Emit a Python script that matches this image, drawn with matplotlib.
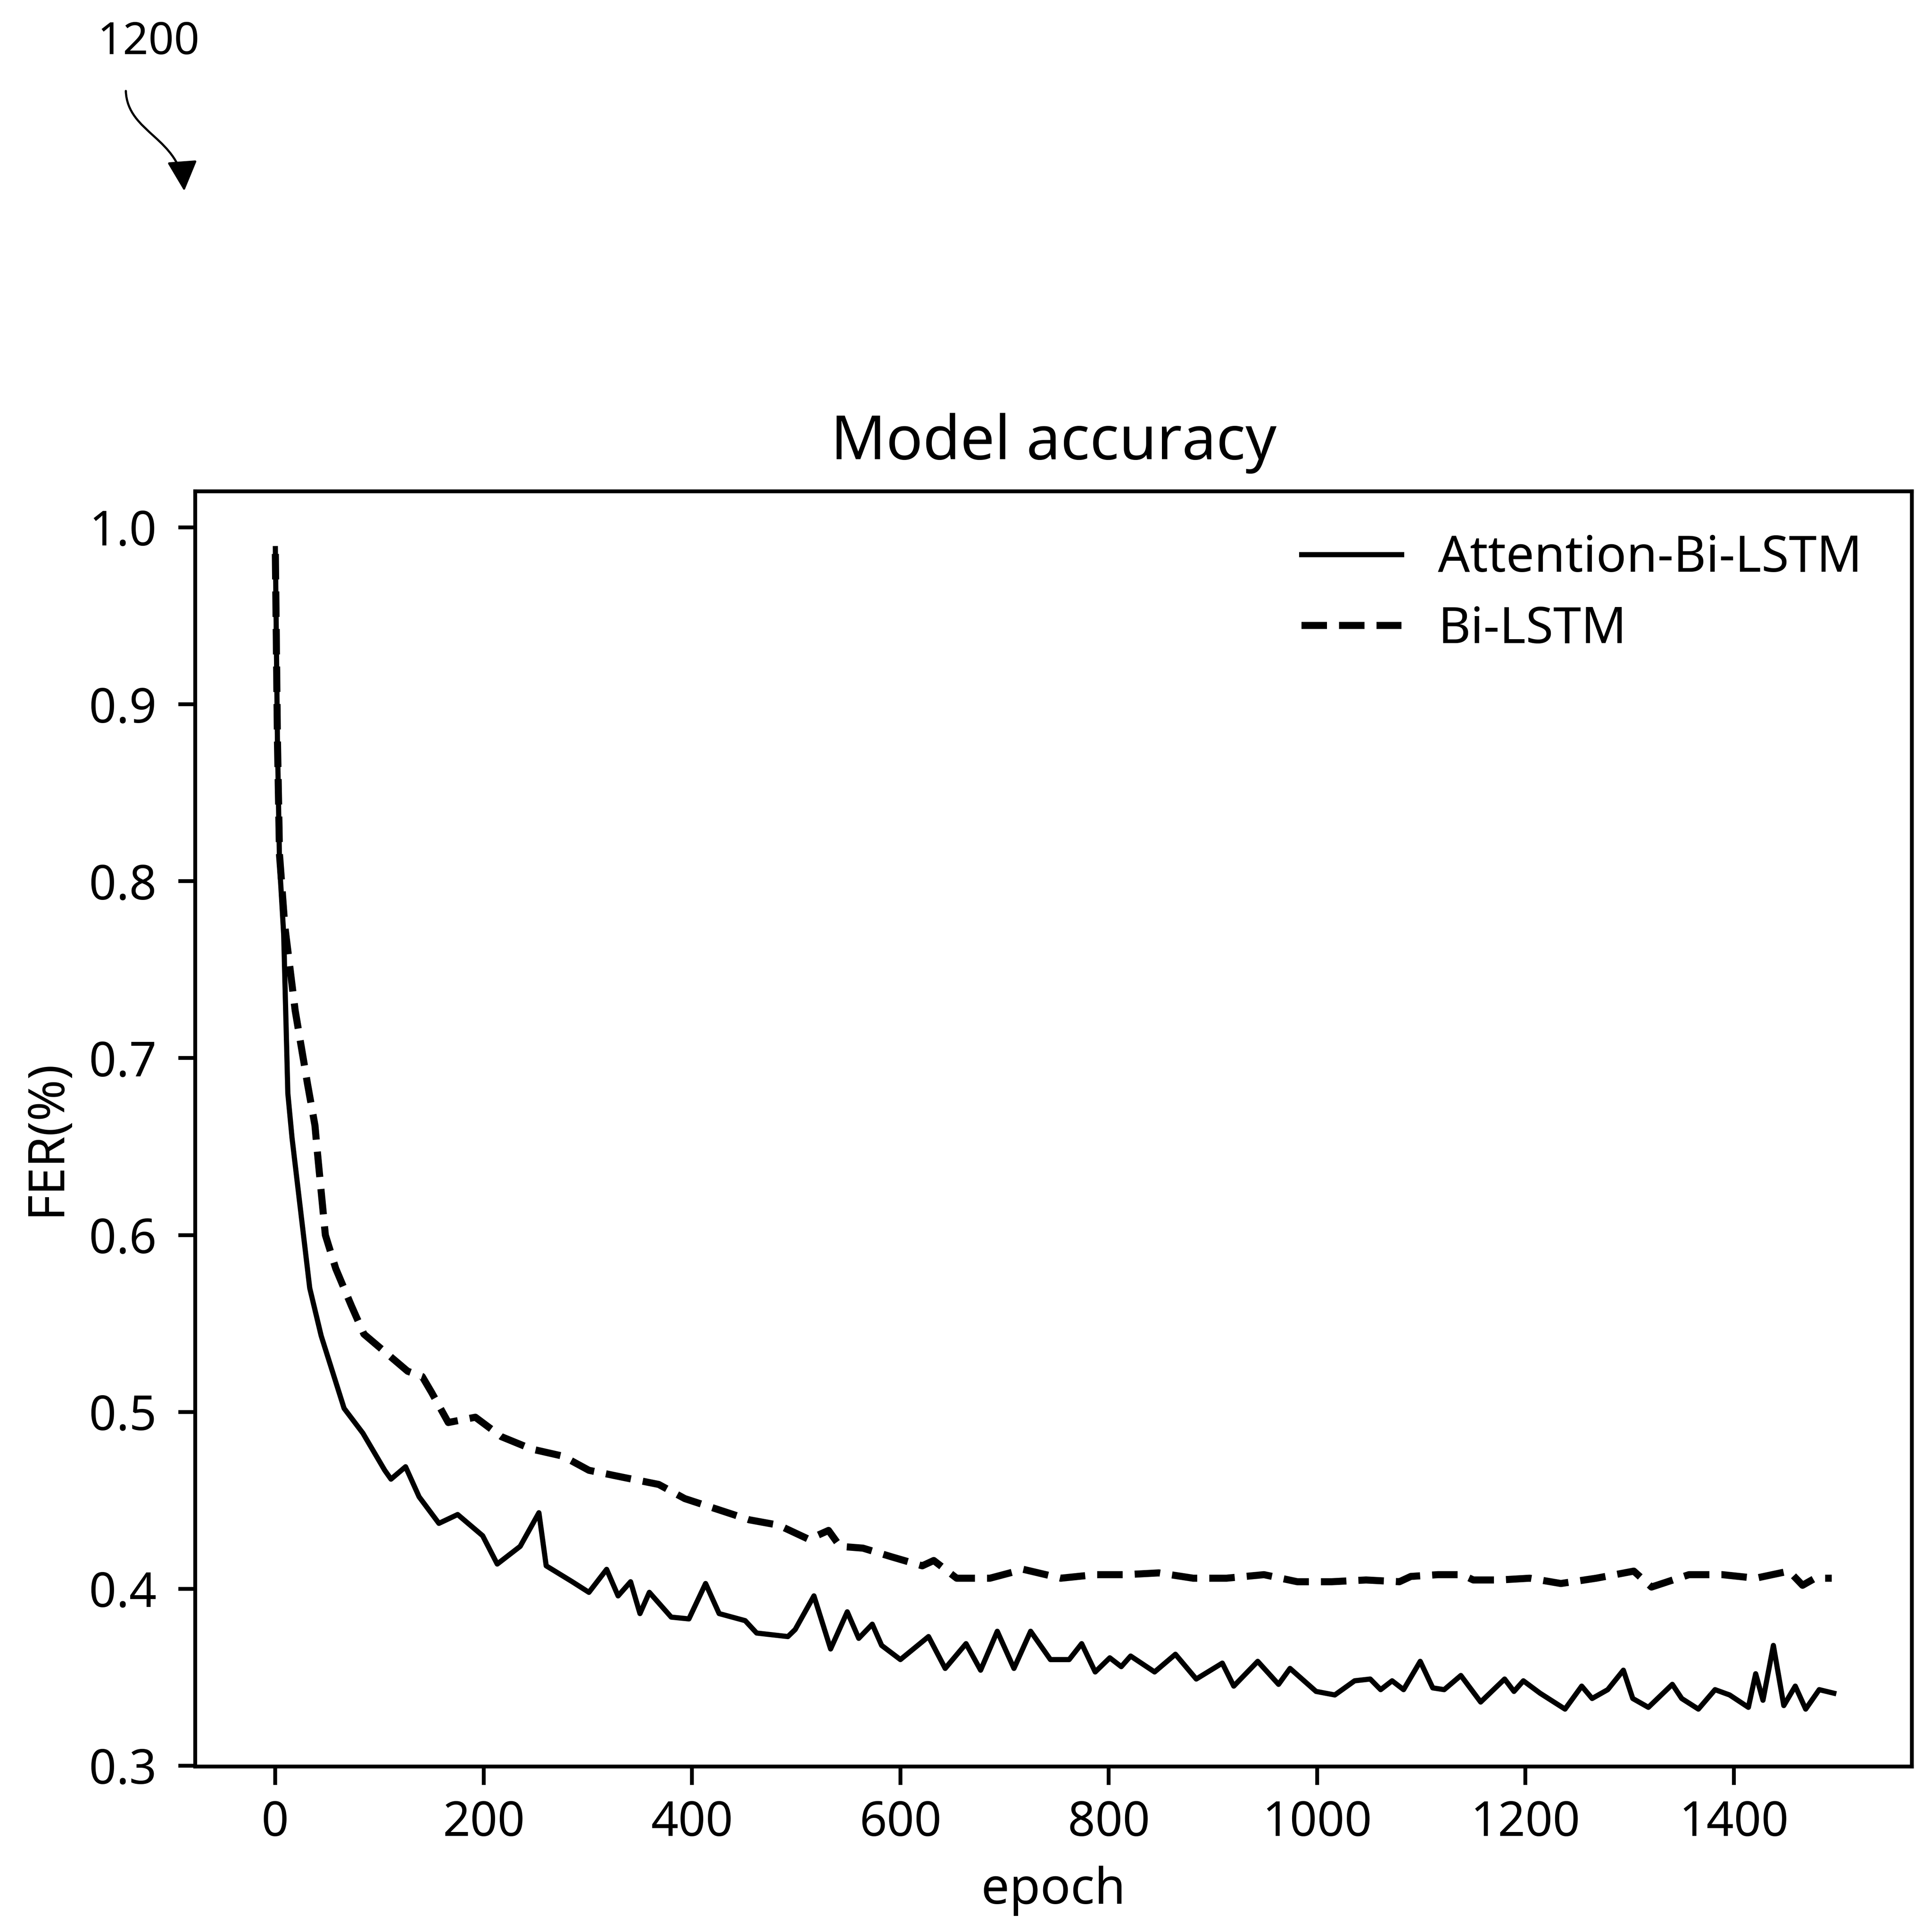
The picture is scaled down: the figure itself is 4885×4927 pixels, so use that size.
import matplotlib
matplotlib.use("Agg")
import matplotlib.pyplot as plt
from matplotlib.path import Path
from matplotlib.patches import FancyArrowPatch

# values
epochs_att = [0, 2, 4, 8, 12, 16, 21, 27, 33, 44, 66, 84, 105, 111, 125, 138, 157, 175,
              199, 213, 235, 253, 260, 285, 301, 318, 329, 341, 350, 359, 380, 397, 413,
              426, 451, 462, 492, 499, 517, 533, 549, 560, 573, 582, 600, 627, 643, 663,
              677, 693, 709, 725, 744, 762, 774, 787, 801, 812, 821, 844, 864, 884, 909,
              920, 943, 963, 974, 999, 1017, 1036, 1051, 1061, 1072, 1083, 1099, 1111,
              1122, 1138, 1157, 1180, 1189, 1198, 1214, 1238, 1254, 1264, 1279, 1294,
              1303, 1318, 1341, 1350, 1366, 1382, 1396, 1414, 1421, 1428, 1438, 1448,
              1459, 1469, 1482, 1496]
fer_att = [0.988, 0.880, 0.810, 0.770, 0.680, 0.655, 0.630, 0.600, 0.570, 0.543, 0.502,
           0.488, 0.467, 0.462, 0.469, 0.452, 0.437, 0.442, 0.430, 0.414, 0.424, 0.443,
           0.413, 0.404, 0.398, 0.411, 0.396, 0.404, 0.386, 0.398, 0.384, 0.383, 0.403,
           0.386, 0.382, 0.375, 0.373, 0.377, 0.396, 0.366, 0.387, 0.372, 0.380, 0.368,
           0.360, 0.373, 0.355, 0.369, 0.354, 0.376, 0.355, 0.376, 0.360, 0.360, 0.369,
           0.353, 0.361, 0.356, 0.362, 0.353, 0.363, 0.349, 0.358, 0.345, 0.359, 0.346,
           0.355, 0.342, 0.340, 0.348, 0.349, 0.343, 0.348, 0.343, 0.359, 0.344, 0.343,
           0.351, 0.336, 0.349, 0.342, 0.348, 0.341, 0.332, 0.345, 0.338, 0.343, 0.354,
           0.338, 0.333, 0.346, 0.338, 0.332, 0.343, 0.340, 0.333, 0.352, 0.337, 0.368,
           0.334, 0.345, 0.332, 0.343, 0.341]

epochs_bi = [0, 2, 4, 9, 19, 31, 38, 40, 48, 58, 73, 85, 105, 127, 141, 150, 166, 192,
             217, 246, 276, 301, 334, 368, 393, 424, 455, 483, 512, 531, 542, 564, 592,
             621, 632, 654, 686, 718, 754, 787, 816, 848, 881, 913, 949, 981, 1014, 1047,
             1079, 1090, 1116, 1139, 1150, 1175, 1204, 1234, 1268, 1304, 1321, 1357,
             1389, 1421, 1453, 1466, 1478, 1494]
fer_bi = [0.985, 0.880, 0.815, 0.775, 0.727, 0.685, 0.662, 0.649, 0.600, 0.581, 0.560,
          0.544, 0.534, 0.523, 0.520, 0.511, 0.494, 0.497, 0.486, 0.479, 0.475, 0.467,
          0.463, 0.459, 0.451, 0.445, 0.439, 0.436, 0.428, 0.433, 0.424, 0.423, 0.418,
          0.413, 0.416, 0.406, 0.406, 0.411, 0.406, 0.408, 0.408, 0.409, 0.406, 0.406,
          0.408, 0.404, 0.404, 0.405, 0.404, 0.407, 0.408, 0.408, 0.405, 0.405, 0.406,
          0.403, 0.406, 0.410, 0.401, 0.408, 0.408, 0.406, 0.410, 0.402, 0.406, 0.406]

x_ticks = [0, 200, 400, 600, 800, 1000, 1200, 1400]
y_ticks = [0.3, 0.4, 0.5, 0.6, 0.7, 0.8, 0.9, 1.0]

plt.rcParams['font.family'] = ['Noto Sans', 'DejaVu Sans']

W, H = 4885, 4927
fig = plt.figure(figsize=(W / 100, H / 100), dpi=100)
ax = fig.add_axes([0.1019, 0.0857, 0.8965, 0.66])

ax.plot(epochs_att, fer_att, color='black', lw=9.5, label='Attention-Bi-LSTM')
ax.plot(epochs_bi, fer_bi, color='black', lw=13, linestyle=(0, (3.6, 1.7)),
        label='Bi-LSTM')

ax.set_xlim(-77, 1571)
ax.set_ylim(0.2996, 1.0204)
ax.set_xticks(x_ticks)
ax.set_yticks(y_ticks)

for sp in ax.spines.values():
    sp.set_linewidth(7)
ax.tick_params(axis='both', width=7, labelsize=88)
ax.tick_params(axis='x', length=34, pad=27)
ax.tick_params(axis='y', length=31, pad=40)

ax.set_title('Model accuracy', fontsize=112, pad=59)
ax.set_xlabel('epoch', fontsize=92)
ax.set_ylabel('FER(%)', fontsize=92)
ax.xaxis.set_label_coords(0.5, -0.078)
ax.yaxis.set_label_coords(-0.0717, 0.493)

ax.legend(loc='upper right', bbox_to_anchor=(0.9915, 0.9942), frameon=False,
          fontsize=92, handlelength=2.0, handletextpad=0.73, labelspacing=0.42,
          borderaxespad=0.3)

# reference numeral and its curved lead arrow
fig.text(249 / W, 1 - 138 / H, '1200', ha='left', va='baseline', fontsize=82,
         family=['Liberation Sans Narrow', 'Noto Sans'])

pts = [(321, 232), (325, 340), (460, 350), (470, 487)]
verts = [(px / W, 1 - py / H) for px, py in pts]
path = Path(verts, [Path.MOVETO, Path.CURVE4, Path.CURVE4, Path.CURVE4])
arrow = FancyArrowPatch(path=path, arrowstyle='-|>', mutation_scale=120,
                        lw=4, color='black', transform=fig.transFigure)
fig.add_artist(arrow)

fig.savefig('out.png', dpi=100)
